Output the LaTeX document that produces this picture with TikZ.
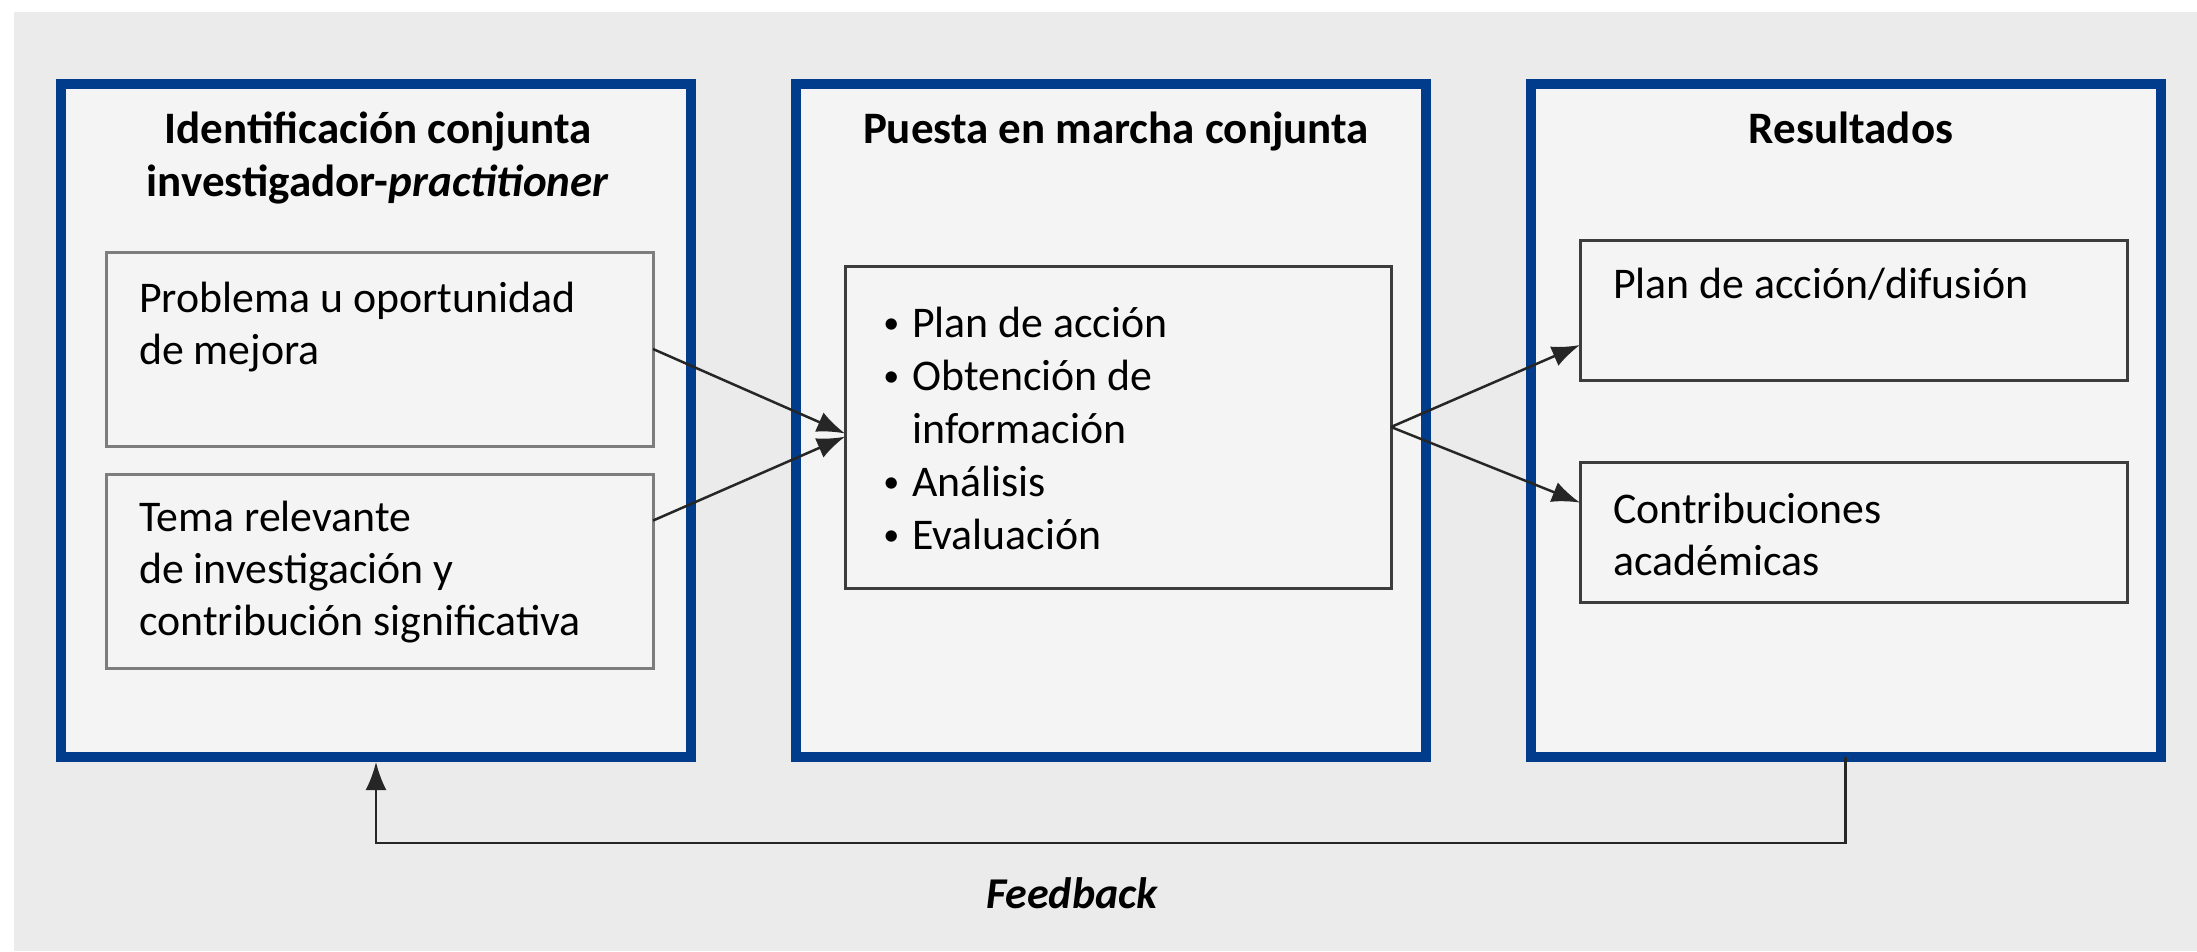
\documentclass[tikz,border=0pt]{standalone}
\usepackage{fontspec}
\setmainfont{Carlito}
\usetikzlibrary{arrows.meta,calc}
\definecolor{bgray}{RGB}{235,235,235}
\definecolor{boxfill}{RGB}{244,244,244}
\definecolor{frameblue}{RGB}{0,59,140}
\definecolor{lightedge}{RGB}{125,125,125}
\definecolor{darkedge}{RGB}{60,60,60}
\newcommand\mybul{\llap{\raisebox{4pt}{\fontsize{32}{32}\selectfont\textbullet}\hspace{13pt}}}
\begin{document}
\begin{tikzpicture}[x=1pt,y=-1pt,
  outerbox/.style={draw=frameblue, line width=10pt, fill=boxfill, inner sep=0pt, outer sep=0pt, minimum width=630pt, minimum height=673pt},
  inbox/.style={draw=darkedge, line width=3pt, fill=boxfill, inner sep=0pt, outer sep=0pt, minimum width=547pt},
  title/.style={font=\fontsize{45}{53}\selectfont\bfseries, align=center, inner sep=0pt, anchor=base},
  body/.style={font=\fontsize{43.8}{52}\selectfont, align=left, anchor=base west, inner sep=0pt},
  conn/.style={line width=2.5pt, draw=black!85, -{Latex[length=28pt,width=21pt]}},
]
\fill[white] (0,0) rectangle (2197,951);
\fill[bgray] (14,12) rectangle (2197,951);

\node[outerbox] (o1) at (376,420.5) {};
\node[outerbox] (o2) at (1111,420.5) {};
\node[outerbox] (o3) at (1845.5,420.5) {};

% base anchor of a multi-line node = baseline of its last line
\node[title] (t1) at (378,196) {Identificación conjunta\\investigador-\textit{practitioner}};
\node[title] (t2) at (1116,143) {Puesta en marcha conjunta};
\node[title] (t3) at (1851,143) {Resultados};

\node[inbox, draw=lightedge, minimum height=194pt] (b1a) at (379.5,349) {};
\node[inbox, draw=lightedge, minimum height=194pt] (b1b) at (379.5,571) {};
\node[inbox, minimum width=546pt, minimum height=322pt] (b2) at (1118,427) {};
\node[inbox, minimum height=140pt] (b3a) at (1853.5,310) {};
\node[inbox, minimum height=140pt] (b3b) at (1853.5,532) {};

\node[body] (x1a) at (139,364) {Problema u oportunidad\\de mejora};
\node[body] (x1b) at (139,635) {Tema relevante\\de investigación y\\contribución significativa};
\node[body, font=\fontsize{43.8}{53}\selectfont] (x2) at (912,549) {\mybul Plan de acción\\\mybul Obtención de\\información\\\mybul Análisis\\\mybul Evaluación};
\node[body] (x3a) at (1613,298) {Plan de acción/difusión};
\node[body] (x3b) at (1613,575) {Contribuciones\\académicas};

\node[font=\fontsize{44}{52}\selectfont\bfseries\itshape, anchor=base, inner sep=0pt] (fb) at (1072,908) {Feedback};

\draw[conn] (b1a.east) -- ($(b2.north west)!0.52!(b2.south west)$);
\draw[conn] ($(b1b.north east)!0.24!(b1b.south east)$) -- ($(b2.north west)!0.53!(b2.south west)$);
\draw[conn] (b2.east) -- ($(b3a.north west)!0.75!(b3a.south west)$);
\draw[conn] (b2.east) -- ($(b3b.north west)!0.29!(b3b.south west)$);
\coordinate (fbc) at (0,843);
\draw[conn, shorten >=5pt] (o3.south) -- (o3.south |- fbc) -- (o1.south |- fbc) -- (o1.south);
\end{tikzpicture}
\end{document}
